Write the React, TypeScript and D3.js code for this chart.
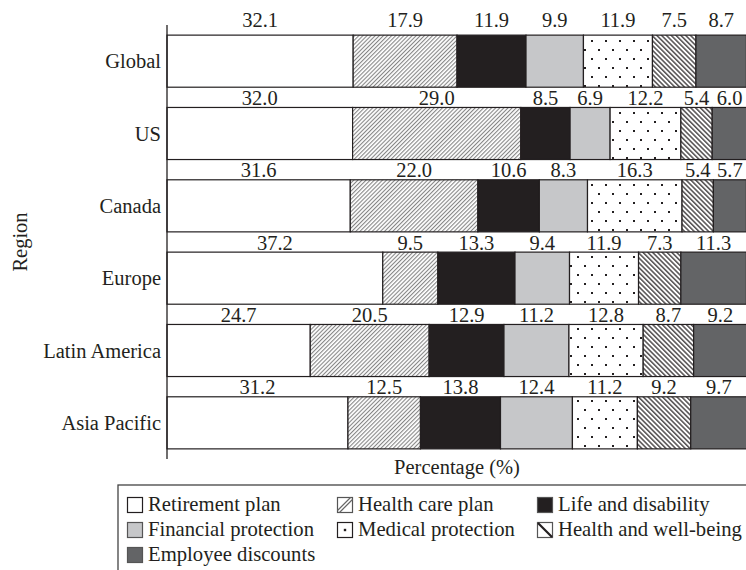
import React from "react";
import * as d3 from "d3";

const regions = ["Global", "US", "Canada", "Europe", "Latin America", "Asia Pacific"];
const seriesNames = [
  "Retirement plan",
  "Health care plan",
  "Life and disability",
  "Financial protection",
  "Medical protection",
  "Health and well-being",
  "Employee discounts",
];
const retirement = [32.1, 32.0, 31.6, 37.2, 24.7, 31.2];
const healthCare = [17.9, 29.0, 22.0, 9.5, 20.5, 12.5];
const lifeDisability = [11.9, 8.5, 10.6, 13.3, 12.9, 13.8];
const financial = [9.9, 6.9, 8.3, 9.4, 11.2, 12.4];
const medical = [11.9, 12.2, 16.3, 11.9, 12.8, 11.2];
const wellBeing = [7.5, 5.4, 5.4, 7.3, 8.7, 9.2];
const discounts = [8.7, 6.0, 5.7, 11.3, 9.2, 9.7];
const xTicks = [0, 100];

const seriesValues = [retirement, healthCare, lifeDisability, financial, medical, wellBeing, discounts];
const fills = [
  "#ffffff",
  "url(#hatchHealth)",
  "#231f20",
  "#c6c7c9",
  "url(#dots)",
  "url(#hatchWell)",
  "#636466",
];

const W = 746;
const H = 570;
const FONT = "'Liberation Serif', 'Times New Roman', serif";
const INK = "#231f20";

export default function App() {
  const x = d3.scaleLinear().domain([xTicks[0], xTicks[1]]).range([167, 747]);
  const y = d3.scaleBand<string>().domain(regions).range([25, 459]).paddingInner(0.28).paddingOuter(0.14);

  const table = regions.map((r, i) => {
    const o: any = { region: r };
    seriesNames.forEach((s, k) => (o[s] = seriesValues[k][i]));
    return o;
  });
  const stacked = d3.stack<any>().keys(seriesNames)(table);

  const legendCols = [127, 337, 537];
  const legendRows = [497, 522, 547];

  const swatch = (k: number, sx: number, sy: number) => {
    const s = 16;
    const base = (
      <rect x={sx + 0.5} y={sy + 0.5} width={s - 1} height={s - 1} fill={k === 2 ? INK : k === 3 ? "#c6c7c9" : k === 6 ? "#636466" : "#fff"} stroke={k === 0 || k === 4 ? INK : "#555"} strokeWidth={1.2} />
    );
    let extra: any = null;
    if (k === 1)
      extra = (
        <g>
          <line x1={sx + 1.5} y1={sy + s - 1.5} x2={sx + s - 1.5} y2={sy + 1.5} stroke="#666" strokeWidth={4} />
          <line x1={sx + 1.5} y1={sy + s - 1.5} x2={sx + s - 1.5} y2={sy + 1.5} stroke="#fff" strokeWidth={1.5} />
        </g>
      );
    if (k === 4) extra = <rect x={sx + s / 2 - 1.2} y={sy + s / 2 - 1.2} width={2.4} height={2.4} fill={INK} />;
    if (k === 5) extra = <line x1={sx + 1} y1={sy + 1} x2={sx + s - 1} y2={sy + s - 1} stroke={INK} strokeWidth={2.2} />;
    return (
      <g>
        {base}
        {extra}
      </g>
    );
  };

  return (
    <svg width={W} height={H} style={{ position: "absolute", left: 0, top: 0, background: "#fff" }} fontFamily={FONT}>
      <defs>
        <pattern id="hatchHealth" patternUnits="userSpaceOnUse" width={2.9} height={10} patternTransform="rotate(45)">
          <rect width={2.9} height={10} fill="#fff" />
          <line x1={0.6} y1={0} x2={0.6} y2={10} stroke="#555" strokeWidth={0.8} />
        </pattern>
        <pattern id="hatchWell" patternUnits="userSpaceOnUse" width={3.4} height={10} patternTransform="rotate(-45)">
          <rect width={3.4} height={10} fill="#fff" />
          <line x1={0.8} y1={0} x2={0.8} y2={10} stroke={INK} strokeWidth={1.2} />
        </pattern>
        <pattern id="dots" patternUnits="userSpaceOnUse" width={14} height={18}>
          <rect width={14} height={18} fill="#fff" />
          <rect x={3} y={4} width={2} height={2} fill={INK} />
          <rect x={10} y={13} width={2} height={2} fill={INK} />
        </pattern>
      </defs>

      {stacked.map((layer, k) => (
        <g key={k}>
          {layer.map((d, i) => (
            <rect
              key={i}
              x={x(d[0])}
              y={y(regions[i])!}
              width={x(d[1]) - x(d[0])}
              height={y.bandwidth()}
              fill={fills[k]}
              stroke={INK}
              strokeWidth={1.2}
            />
          ))}
        </g>
      ))}

      {stacked.map((layer, k) => (
        <g key={"l" + k}>
          {layer.map((d, i) => (
            <text
              key={i}
              x={(x(d[0]) + x(d[1])) / 2}
              y={y(regions[i])! - (i === 0 ? 8 : 2.5)}
              textAnchor="middle"
              fontSize={20.5}
              fill={INK}
            >
              {seriesValues[k][i].toFixed(1)}
            </text>
          ))}
        </g>
      ))}

      <line x1={x(0)} y1={25} x2={x(0)} y2={459} stroke={INK} strokeWidth={1.3} />

      {regions.map((r) => (
        <text key={r} x={161} y={y(r)! + y.bandwidth() / 2 + 7} textAnchor="end" fontSize={20.5} fill={INK}>
          {r}
        </text>
      ))}

      <text transform={`translate(27,242) rotate(-90)`} textAnchor="middle" fontSize={20.5} fill={INK}>
        Region
      </text>
      <text x={(x(0) + x(100)) / 2} y={474} textAnchor="middle" fontSize={20.5} fill={INK}>
        Percentage (%)
      </text>

      <rect x={118} y={485} width={700} height={120} fill="none" stroke="#444" strokeWidth={1.3} />
      {seriesNames.map((s, k) => {
        const col = k % 3;
        const row = Math.floor(k / 3);
        const sx = legendCols[col];
        const sy = legendRows[row];
        return (
          <g key={s}>
            {swatch(k, sx, sy)}
            <text x={sx + 21} y={sy + 14} fontSize={20.7} fill={INK}>
              {s}
            </text>
          </g>
        );
      })}
    </svg>
  );
}
